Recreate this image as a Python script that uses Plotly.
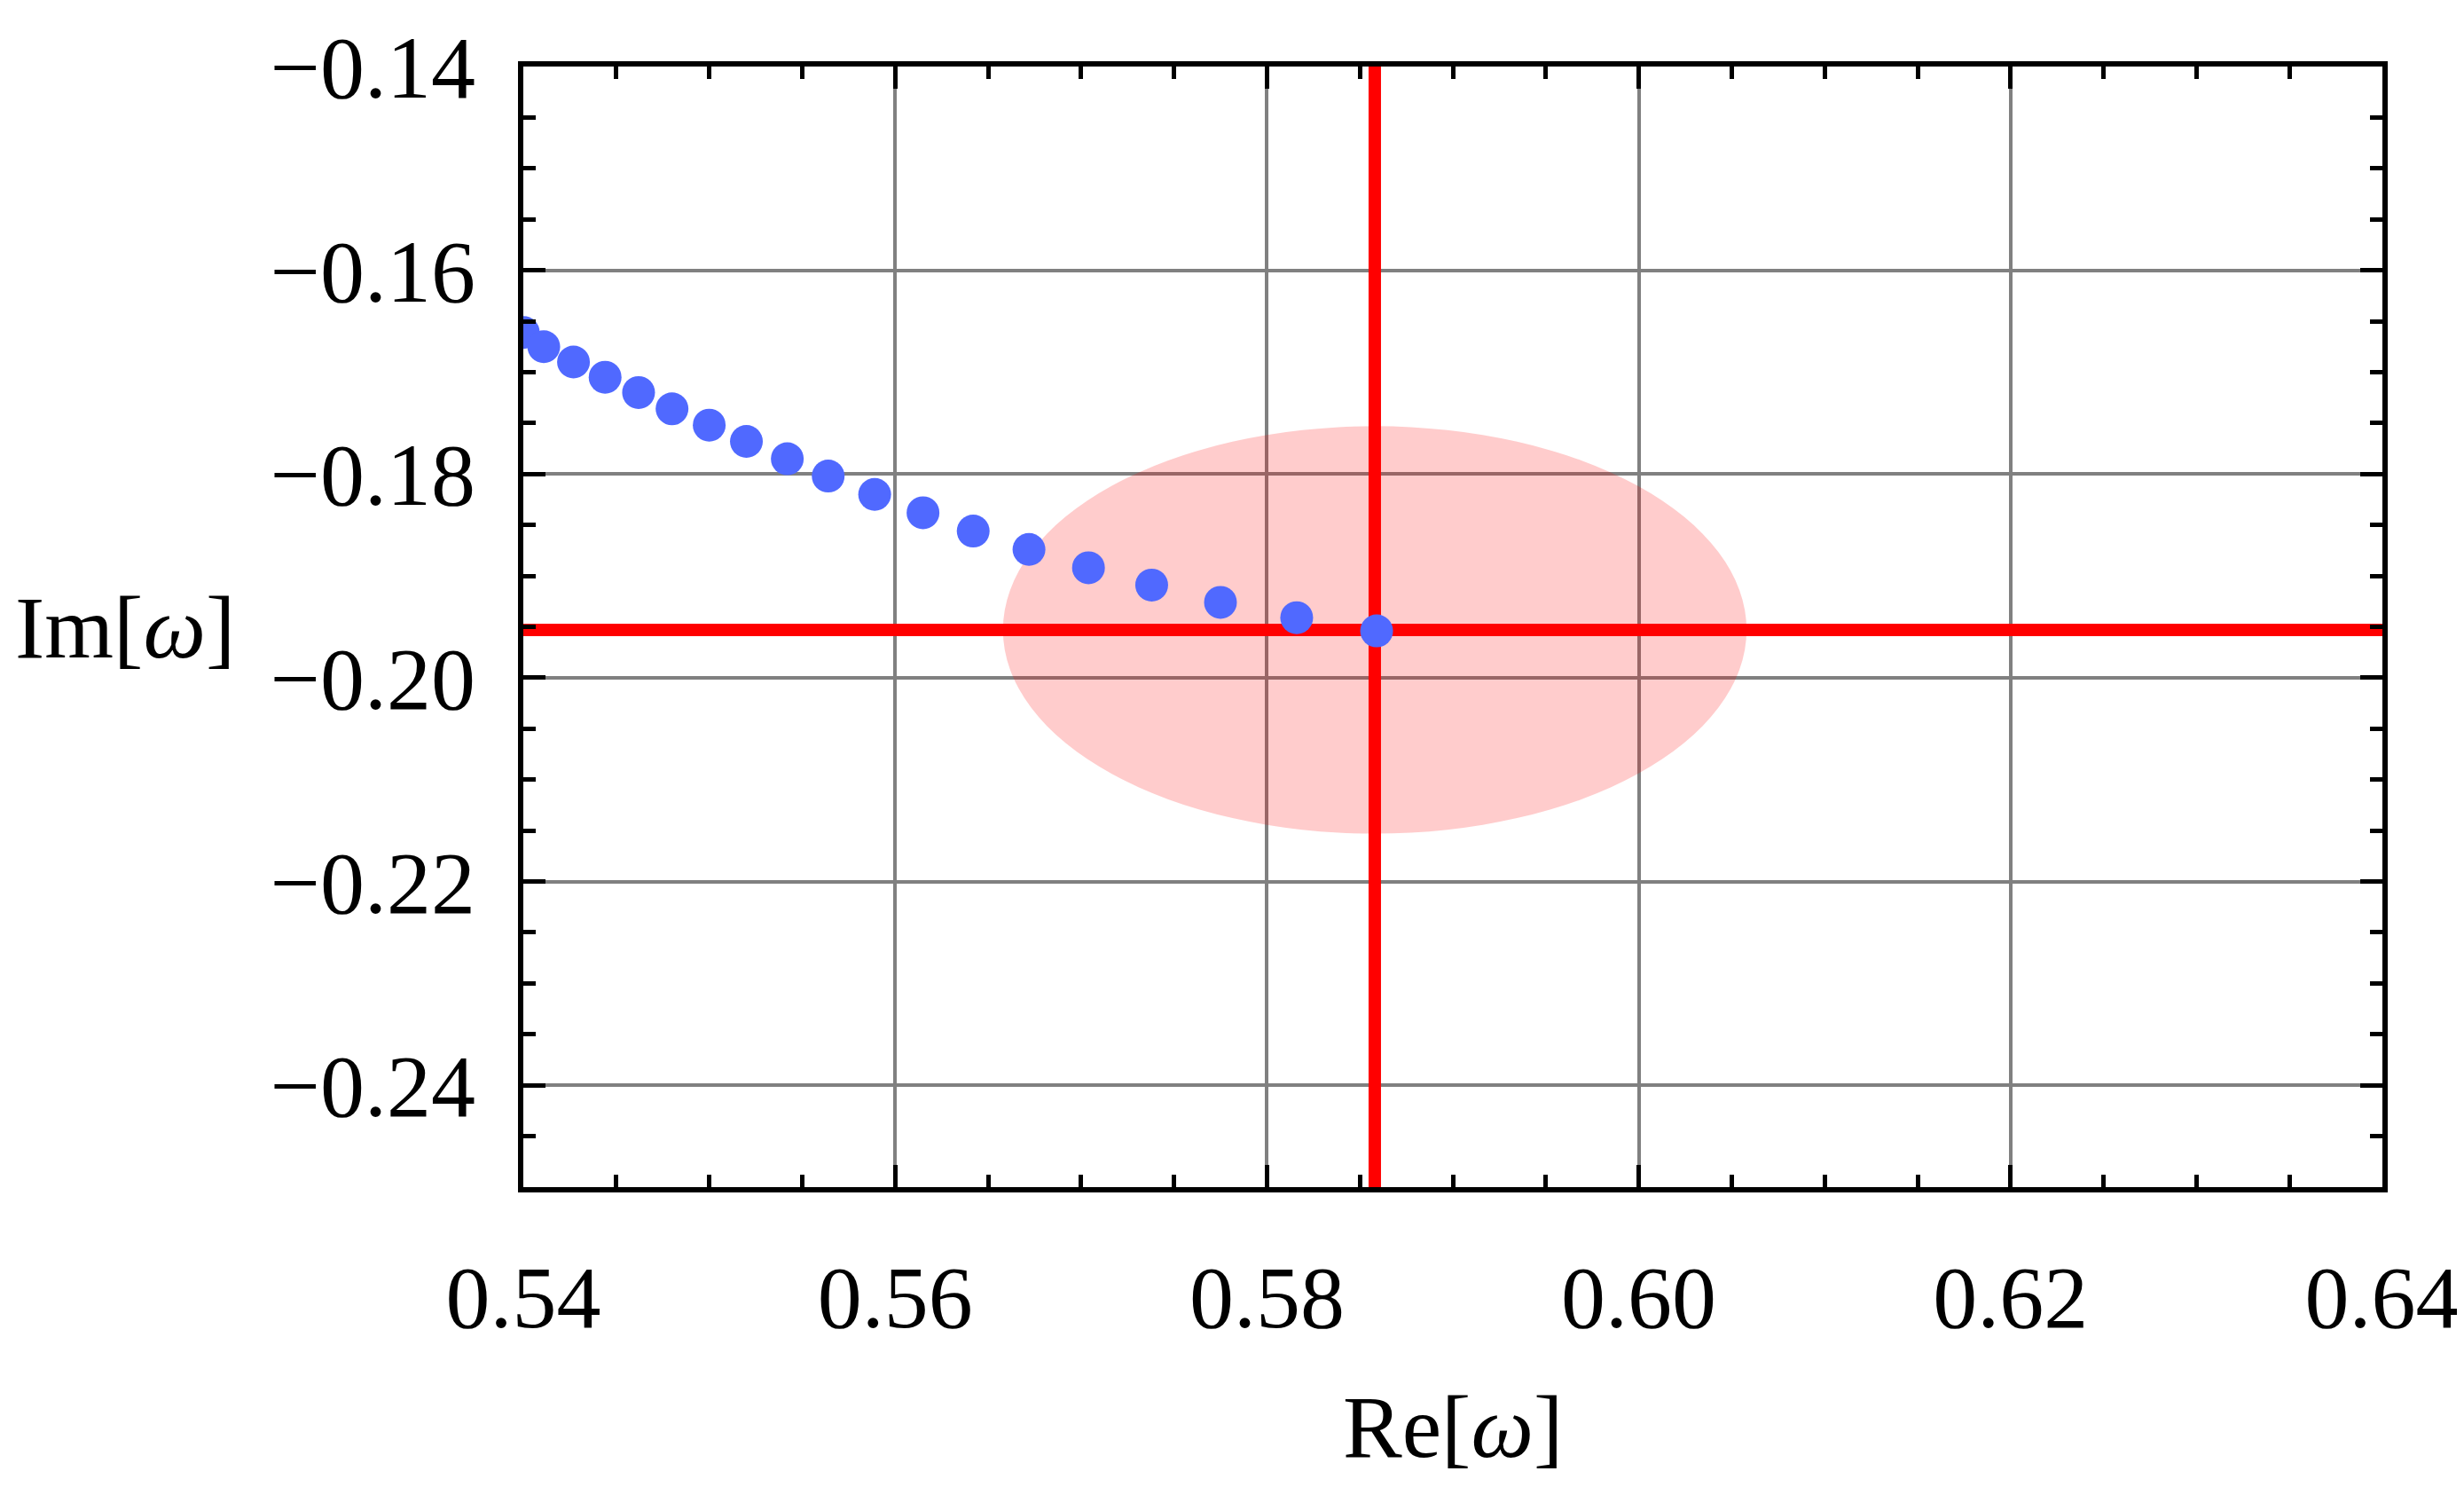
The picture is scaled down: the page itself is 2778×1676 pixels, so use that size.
import plotly.graph_objects as go

# Data
re_vals = [0.5400, 0.5411, 0.5427, 0.5444, 0.5462, 0.5480, 0.5500, 0.5520, 0.5542,
           0.5564, 0.5589, 0.5615, 0.5642, 0.5672, 0.5704, 0.5738, 0.5775, 0.5816, 0.5859]
im_vals = [-0.1661, -0.1675, -0.1690, -0.1705, -0.1720, -0.1736, -0.1752, -0.1768, -0.1785,
           -0.1802, -0.1820, -0.1838, -0.1856, -0.1874, -0.1892, -0.1909, -0.1926, -0.1941, -0.1954]
center_re = 0.5858
center_im = -0.1953
radius = 0.02
x_range = [0.54, 0.64]
y_range = [-0.25, -0.14]

FONT = "Liberation Serif"

fig = go.Figure()

# red cross-hair lines through the reference value
fig.add_trace(go.Scatter(x=[center_re, center_re], y=y_range, mode="lines",
                         line=dict(color="#FF0000", width=14), showlegend=False, hoverinfo="skip"))
fig.add_trace(go.Scatter(x=x_range, y=[center_im, center_im], mode="lines",
                         line=dict(color="#FF0000", width=14), showlegend=False, hoverinfo="skip"))
# points
fig.add_trace(go.Scatter(x=re_vals, y=im_vals, mode="markers",
                         marker=dict(size=37, color="rgb(80,105,255)", line=dict(width=0)),
                         showlegend=False, cliponaxis=True))

# tolerance region
fig.add_shape(type="circle", xref="x", yref="y",
              x0=center_re - radius, x1=center_re + radius,
              y0=center_im - radius, y1=center_im + radius,
              fillcolor="rgba(255,0,0,0.2)", line=dict(width=0), layer="between")

axis_common = dict(
    showline=True, linecolor="black", linewidth=6, mirror="allticks",
    ticks="inside", ticklen=25, tickwidth=5, tickcolor="black",
    showgrid=True, gridcolor="#808080", gridwidth=4, zeroline=False,
    tickfont=dict(family=FONT, size=100, color="black"),
    dtick=0.02, tickformat=".2f",
    minor=dict(ticks="inside", ticklen=14, tickwidth=5, tickcolor="black",
               dtick=0.005, showgrid=False),
)

fig.update_xaxes(range=x_range, tick0=0.54, ticklabelstandoff=32, **axis_common)
fig.update_yaxes(range=y_range, tick0=-0.14, ticklabelstandoff=28, **axis_common)

fig.add_annotation(text="Re[<i>ω</i>]", xref="paper", yref="paper", x=0.5, y=-0.214,
                   xanchor="center", yanchor="middle", showarrow=False,
                   font=dict(family=FONT, size=100, color="black"))
fig.add_annotation(text="Im[<i>ω</i>]", xref="paper", yref="paper", x=-0.2745, y=0.499,
                   xanchor="left", yanchor="middle", showarrow=False,
                   font=dict(family=FONT, size=100, color="black"))

fig.update_layout(
    width=2778, height=1676,
    margin=dict(l=582, r=93, t=67, b=346),
    plot_bgcolor="white", paper_bgcolor="white",
    showlegend=False,
)

fig.write_html("out.html")
